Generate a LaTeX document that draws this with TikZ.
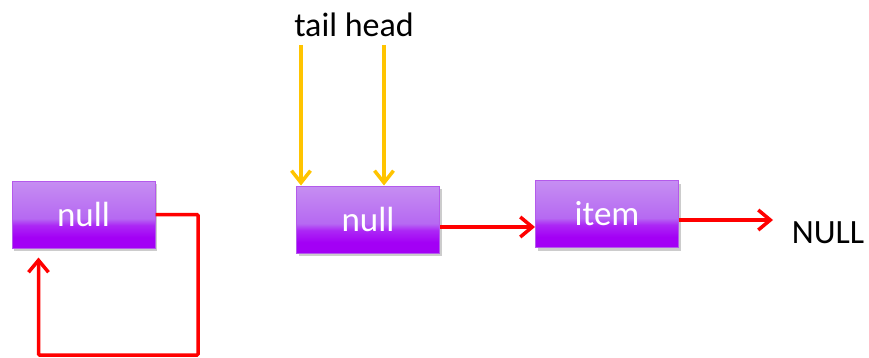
\documentclass[tikz,border=0pt]{standalone}
\usepackage{fontspec}
\setmainfont{Carlito}
\usetikzlibrary{arrows.meta,shadows}
\definecolor{arrred}{RGB}{255,0,0}
\definecolor{arryel}{RGB}{255,196,0}
\definecolor{boxedge}{RGB}{180,90,235}
\definecolor{pbot}{RGB}{163,0,245}
\definecolor{pmid}{RGB}{172,40,245}
\definecolor{pmid2}{RGB}{182,105,242}
\definecolor{ptop}{RGB}{212,175,243}
\pgfdeclareverticalshading{boxshade}{100bp}{color(0bp)=(pbot); color(33bp)=(pbot); color(42bp)=(pmid); color(47bp)=(pmid2); color(100bp)=(ptop)}
\tikzset{
  listbox/.style={draw=boxedge, line width=1pt, shading=boxshade, minimum width=143pt, minimum height=67pt, inner sep=0pt,
    text=white, font=\fontsize{35}{40}\selectfont,
    drop shadow={opacity=0.4, shadow xshift=2pt, shadow yshift=-3pt}},
  redarrow/.style={draw=arrred, line width=3.5pt, -{Straight Barb[length=12pt,width=20pt,line width=3.5pt]}},
  yelarrow/.style={draw=arryel, line width=3.5pt, -{Straight Barb[length=12pt,width=19pt,line width=3.5pt]}},
  lbl/.style={text=black, font=\fontsize{34}{40}\selectfont, inner sep=0pt}
}
\begin{document}
\begin{tikzpicture}[x=1pt,y=-1pt]
\useasboundingbox (0,0) rectangle (869,358);
\node[listbox] (b1) at (83.5,214.5) {null};
\node[listbox] (b2) at (368,219.5) {null};
\node[listbox] (b3) at (607,214) {item};
\node[lbl] (nul) at (828,233) {NULL};
\node[lbl] (th) at (354,25) {tail head};
\coordinate (ts) at (301,45);
\coordinate (hs) at (384,45);
\coordinate (loopc) at (198,355);
\coordinate (ne) at (773,220);
% loop from b1 back to itself
\draw[redarrow, rounded corners=1pt, shorten >=9pt] (b1.east) -| (loopc) -| ([xshift=27pt]b1.south west);
% b2 -> b3
\draw[redarrow] (b2.east |- 0,227) -- (b3.west |- 0,227);
% b3 -> NULL
\draw[redarrow] (b3.east |- ne) -- (ne);
% tail / head pointers
\draw[yelarrow] (ts) -- (ts |- b2.north);
\draw[yelarrow] (hs) -- (hs |- b2.north);
\end{tikzpicture}
\end{document}
